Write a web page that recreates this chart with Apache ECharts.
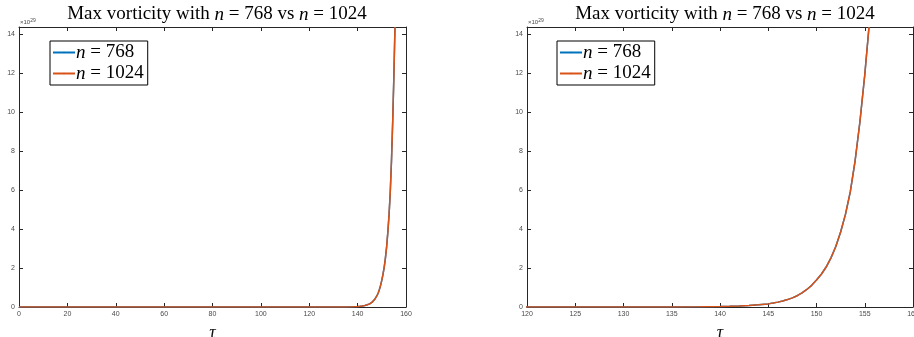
<!DOCTYPE html>
<html><head><meta charset="utf-8">
<script src="https://cdn.jsdelivr.net/npm/echarts@6/dist/echarts.min.js"></script>
<style>html,body{margin:0;padding:0;background:#fff}#c{width:914px;height:337px}</style>
</head><body><div id="c"></div>
<script>
// tau samples
const tau = [0,10,20,30,40,50,60,70,80,90,100,110,120,125,130,135,138,140,141,142,143,144,145,145.5,146,146.5,147,147.5,148,148.5,149,149.5,150,150.5,151,151.5,152,152.5,153,153.5,154,154.5,155,155.44];
// max vorticity (x 1e29)
const vort768 = [0,0,0,0,0,0,0,0,0,0,0,0,0.0001,0.0004,0.0012,0.004,0.012,0.025,0.037,0.055,0.08,0.115,0.16,0.2,0.25,0.31,0.38,0.47,0.58,0.72,0.9,1.11,1.38,1.68,2.05,2.52,3.1,3.85,4.75,5.9,7.5,9.5,11.9,14.36];
const vort1024 = [0,0,0,0,0,0,0,0,0,0,0,0,0.0001,0.0004,0.0012,0.004,0.012,0.025,0.037,0.055,0.08,0.115,0.16,0.2,0.25,0.31,0.38,0.47,0.58,0.72,0.9,1.11,1.38,1.68,2.05,2.52,3.1,3.85,4.75,5.9,7.5,9.5,11.9,14.36];
const leftXTicks = [0,20,40,60,80,100,120,140,160];
const rightXTicks = [120,125,130,135,140,145,150,155,160];
const yTicks = [0,2,4,6,8,10,12,14];
const yMax = 14.36;

const blue = '#0072BD', orange = '#D95319';
const axisCol = '#262626', labCol = '#4a4a4a';
const serif = '"Liberation Serif","DejaVu Serif",serif';
const sans = '"Liberation Sans",Helvetica,Arial,sans-serif';

const grids = [
  {left:19, right:508, top:27, bottom:30, outerBoundsMode:'none', containLabel:false},
  {left:527, right:1, top:27, bottom:30, outerBoundsMode:'none', containLabel:false}
];
function xAx(gi, pos, min, max, ticks, show){
  return {type:'value', gridIndex:gi, position:pos, min:min, max:max,
    axisLine:{show:true, onZero:false, lineStyle:{color:axisCol, width:1}},
    axisTick:{show:true, inside:true, length:4, customValues:ticks, lineStyle:{color:axisCol}},
    axisLabel:{show:show, customValues:ticks, color:labCol, fontSize:7, fontFamily:sans, margin:4},
    splitLine:{show:false},
    name: show ? 'τ' : '', nameLocation:'middle', nameGap:17,
    nameTextStyle:{fontFamily:serif, fontStyle:'italic', fontSize:18, color:'#111'}};
}
function yAx(gi, pos, show){
  return {type:'value', gridIndex:gi, position:pos, min:0, max:yMax,
    axisLine:{show:true, onZero:false, lineStyle:{color:axisCol, width:1}},
    axisTick:{show:true, inside:true, length:4, customValues:yTicks, lineStyle:{color:axisCol}},
    axisLabel:{show:show, customValues:yTicks, color:labCol, fontSize:7, fontFamily:sans, margin:4},
    splitLine:{show:false}};
}
function pairs(ys){ return tau.map((t,i)=>[t, ys[i]]); }
function ser(name, col, ys, gi){
  return {type:'line', name:name, xAxisIndex:gi*2, yAxisIndex:gi*2, data:pairs(ys),
    symbol:'none', smooth:false, clip:true,
    lineStyle:{color:col, width:1.5}, itemStyle:{color:col}};
}
const nameMap = {n768:'{i|n} = 768', n1024:'{i|n} = 1024'};
function legend(left){
  return {left:left, top:41, orient:'vertical', data:['n768','n1024'],
    backgroundColor:'#fff', borderColor:'#000', borderWidth:1, padding:[2,4,2,2],
    itemGap:2, itemWidth:22, itemHeight:2, selectedMode:false,
    formatter: n => nameMap[n],
    textStyle:{fontFamily:serif, fontSize:19, color:'#000', padding:[0,0,0,-4],
      rich:{i:{fontFamily:serif, fontStyle:'italic', fontSize:19, color:'#000'}}}};
}
function title(cx){
  return {text:'Max vorticity with {i|n} = 768 vs {i|n} = 1024', left:cx, top:0, textAlign:'center',
    textStyle:{fontFamily:serif, fontSize:19, fontWeight:'normal', color:'#000',
      rich:{i:{fontFamily:serif, fontStyle:'italic', fontSize:19, color:'#000'}}}};
}
const chart = echarts.init(document.getElementById('c'), null, {renderer:'canvas'});
chart.setOption({
  animation:false,
  title:[title(212), title(720)],
  grid:grids,
  legend:[legend(50), legend(557)],
  xAxis:[xAx(0,'bottom',0,160,leftXTicks,true), xAx(0,'top',0,160,leftXTicks,false),
         xAx(1,'bottom',120,160,rightXTicks,true), xAx(1,'top',120,160,rightXTicks,false)],
  yAxis:[yAx(0,'left',true), yAx(0,'right',false), yAx(1,'left',true), yAx(1,'right',false)],
  series:[ser('n768',blue,vort768,0), ser('n1024',orange,vort1024,0),
          ser('n768',blue,vort768,1), ser('n1024',orange,vort1024,1)],
  graphic:[
    {type:'text', left:20, top:18, style:{text:'×10{s|29}', fill:labCol, font:'6px '+sans, rich:{s:{fontSize:5, verticalAlign:'top', padding:[0,0,3,0], fill:labCol}}}},
    {type:'text', left:528, top:18, style:{text:'×10{s|29}', fill:labCol, font:'6px '+sans, rich:{s:{fontSize:5, verticalAlign:'top', padding:[0,0,3,0], fill:labCol}}}}
  ]
});
</script></body></html>
